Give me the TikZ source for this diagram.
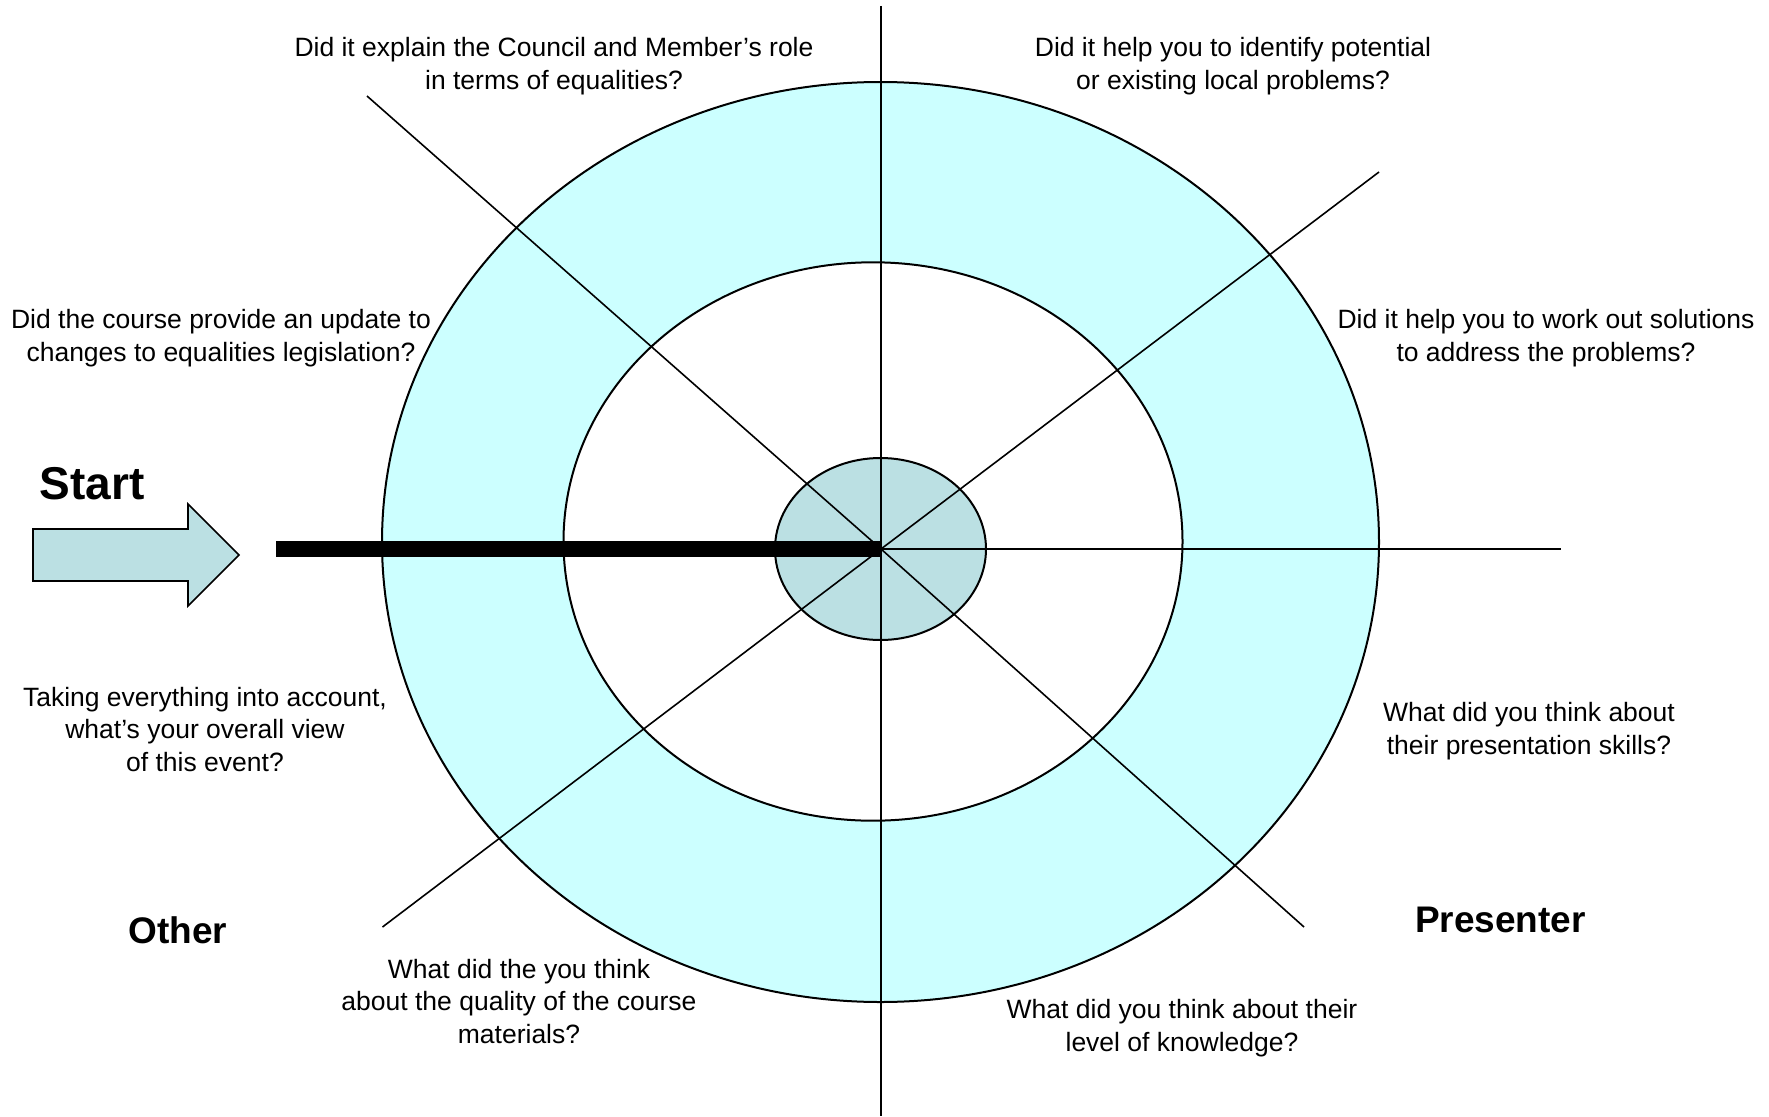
\documentclass[tikz,border=0pt]{standalone}
\usepackage{fontspec}
\setmainfont{Liberation Sans}
\definecolor{ringcyan}{HTML}{CCFFFF}
\definecolor{hubblue}{HTML}{BBE0E3}
\tikzset{
  qtext/.style={align=center, font=\fontsize{26.5}{32.7}\selectfont, inner sep=0pt},
  btext/.style={font=\fontsize{37}{40}\selectfont\bfseries, inner sep=0pt},
  spoke/.style={line width=1.6pt, black},
  rim/.style={line width=2pt, black}
}
\begin{document}
\begin{tikzpicture}[x=1pt, y=-1pt]
\useasboundingbox (0,0) rectangle (1769,1116);
\fill[white] (0,0) rectangle (1769,1116);
% rings
\filldraw[rim, fill=ringcyan] (880.5,542) ellipse [x radius=498.5, y radius=460];
\filldraw[rim, fill=white] (873,541.5) ellipse [x radius=309.5, y radius=279.2];
\filldraw[rim, fill=hubblue] (880.5,549) ellipse [x radius=105.5, y radius=91];
% spokes
\coordinate (c) at (881,549);
\coordinate (top) at (881,6);
\coordinate (bot) at (881,1116);
\coordinate (nw) at (367,96);
\coordinate (ne) at (1379,172);
\coordinate (e) at (1561,549);
\coordinate (se) at (1304,927);
\coordinate (sw) at (382.5,927);
\coordinate (barstart) at (276,549);
\draw[spoke] (top) -- (bot);
\draw[spoke] (nw) -- (c);
\draw[spoke] (c) -- (se);
\draw[spoke] (ne) -- (c);
\draw[spoke] (c) -- (sw);
\draw[spoke] (c) -- (e);
\draw[line width=16.7pt, black] (barstart) -- (c);
% start arrow
\filldraw[line width=1.6pt, fill=hubblue, draw=black, line join=miter]
  (33,529) -- (188,529) -- (188,504) -- (239,555) -- (188,606) -- (188,581) -- (33,581) -- cycle;
% labels
\node[font=\fontsize{46}{50}\selectfont\bfseries, inner sep=0pt, anchor=base] (start) at (92,499) {Start};
\node[btext] (other) at (178,930) {Other};
\node[btext] (presenter) at (1500.5,919.5) {Presenter};
\node[qtext] (q1) at (554,66) {Did it explain the Council and Member’s role\\in terms of equalities?};
\node[qtext] (q2) at (1233,66) {Did it help you to identify potential\\or existing local problems?};
\node[qtext] (q3) at (1546,338) {Did it help you to work out solutions\\to address the problems?};
\node[qtext] (q4) at (1529,731) {What did you think about\\their presentation skills?};
\node[qtext] (q5) at (1182,1028) {What did you think about their\\level of knowledge?};
\node[qtext] (q6) at (519,1001.5) {What did the you think\\about the quality of the course\\materials?};
\node[qtext] (q7) at (205,729.5) {Taking everything into account,\\what’s your overall view\\of this event?};
\node[qtext] (q8) at (221,338) {Did the course provide an update to\\changes to equalities legislation?};
\end{tikzpicture}
\end{document}
